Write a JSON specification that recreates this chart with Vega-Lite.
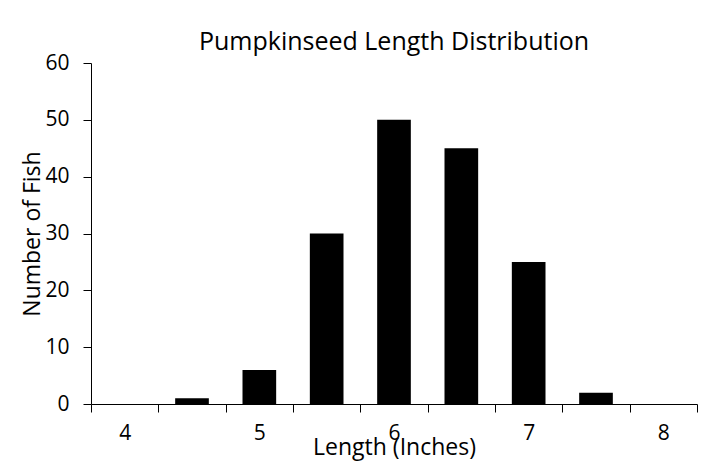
{
  "$schema": "https://vega.github.io/schema/vega-lite/v6.json",
  "autosize": "none",
  "width": 606,
  "height": 341,
  "padding": {"left": 91, "top": 63, "right": 13, "bottom": 62},
  "background": "white",
  "title": {
    "text": "Pumpkinseed Length Distribution",
    "fontSize": 25,
    "fontWeight": "normal",
    "font": "Open Sans",
    "color": "black",
    "anchor": "middle",
    "offset": -3
  },
  "data": {
    "values": [
      {"length": 4, "count": 0},
      {"length": 4.5, "count": 1},
      {"length": 5, "count": 6},
      {"length": 5.5, "count": 30},
      {"length": 6, "count": 50},
      {"length": 6.5, "count": 45},
      {"length": 7, "count": 25},
      {"length": 7.5, "count": 2},
      {"length": 8, "count": 0}
    ]
  },
  "mark": {"type": "bar", "color": "black", "width": {"band": 0.5}},
  "encoding": {
    "x": {
      "field": "length",
      "type": "ordinal",
      "scale": {"paddingInner": 0, "paddingOuter": 0},
      "axis": {
        "title": "Length (Inches)",
        "labelAngle": 0,
        "tickBand": "extent",
        "labelExpr": "datum.value % 1 === 0 ? datum.label : ''",
        "tickSize": 8,
        "labelPadding": 10,
        "titlePadding": -7
      }
    },
    "y": {
      "field": "count",
      "type": "quantitative",
      "scale": {"domain": [0, 60], "nice": false},
      "axis": {
        "title": "Number of Fish",
        "values": [0, 10, 20, 30, 40, 50, 60],
        "grid": false,
        "tickSize": 8,
        "labelPadding": 14,
        "titlePadding": 0
      }
    }
  },
  "config": {
    "view": {"stroke": null},
    "axis": {
      "domainColor": "black",
      "tickColor": "black",
      "labelColor": "black",
      "titleColor": "black",
      "labelFont": "Open Sans",
      "titleFont": "Open Sans",
      "labelFontSize": 21,
      "titleFontSize": 23,
      "titleFontWeight": "normal"
    }
  }
}
